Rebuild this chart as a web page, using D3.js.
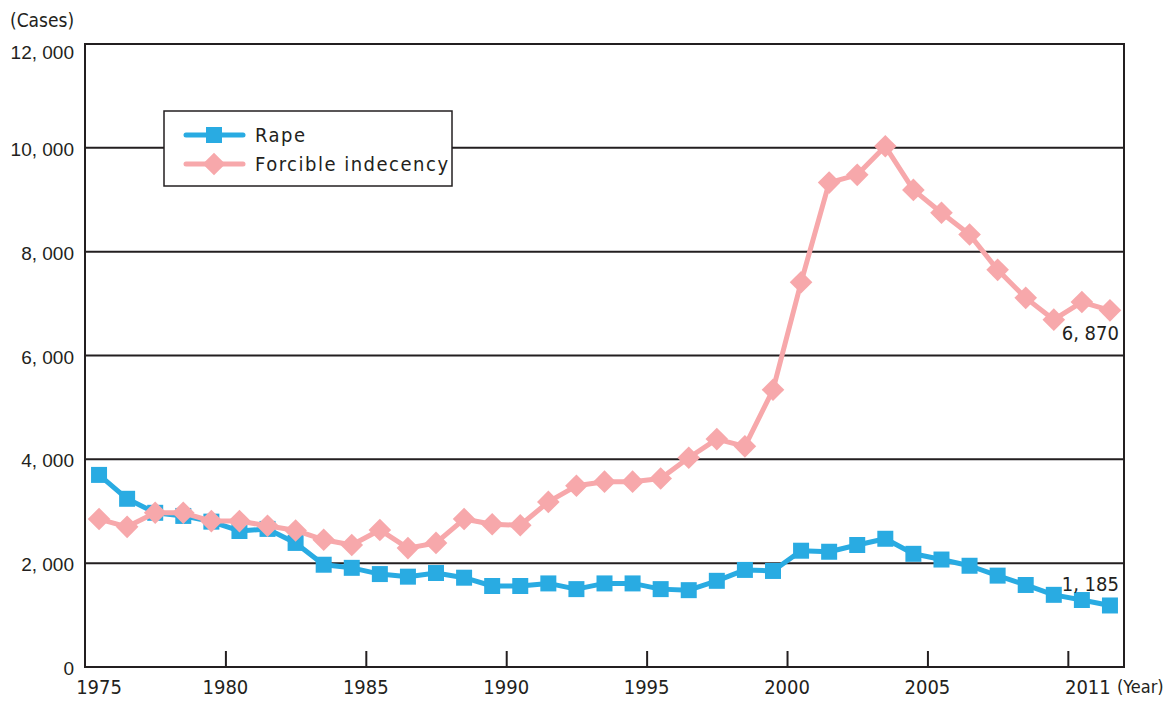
<!DOCTYPE html>
<html>
<head>
<meta charset="utf-8">
<script src="https://cdn.jsdelivr.net/npm/d3@7"></script>
<style>
  body { margin: 0; background: #fff; }
  svg { display: block; font-family: "Liberation Sans Narrow", "DejaVu Sans Condensed", sans-serif; }
</style>
</head>
<body>
<svg id="chart" width="1171" height="701"></svg>
<script>
// data
const years = d3.range(1975, 2012);
const rape = [3700, 3240, 2970, 2910, 2800, 2620, 2660, 2390, 1970, 1910,
              1790, 1740, 1810, 1720, 1560, 1560, 1610, 1500, 1610, 1610,
              1500, 1480, 1660, 1870, 1850, 2240, 2220, 2350, 2470, 2180,
              2070, 1950, 1760, 1580, 1390, 1290, 1185];
const indecency = [2850, 2700, 2970, 2970, 2810, 2810, 2720, 2630, 2450, 2350,
                   2640, 2290, 2390, 2850, 2750, 2730, 3180, 3490, 3570, 3570,
                   3630, 4030, 4390, 4250, 5340, 7410, 9330, 9480, 10030, 9190,
                   8750, 8330, 7650, 7110, 6690, 7030, 6870];
const yTicks = [0, 2000, 4000, 6000, 8000, 10000, 12000];
const tickYears = [1980, 1985, 1990, 1995, 2000, 2005, 2010];
const yearLabels = ["1975", "1980", "1985", "1990", "1995", "2000", "2005", "2011"];
const seriesNames = ["Rape", "Forcible indecency"];

const blue = "#29abe2", pink = "#f7a8ab";
const margin = { top: 44, right: 47, bottom: 34, left: 85 };
const W = 1171, H = 701;
const width = W - margin.left - margin.right;
const height = H - margin.top - margin.bottom;

const svg = d3.select("#chart");
const g = svg.append("g").attr("transform", `translate(${margin.left},${margin.top})`);

const x = d3.scaleLinear().domain([1975, 2012]).range([0, width]);
const y = d3.scaleLinear().domain([0, 12000]).range([height, 0]);
const cx = d => x(d + 0.5);

// gridlines
g.append("g").selectAll("line").data(yTicks.slice(1, -1)).join("line")
  .attr("x1", 0).attr("x2", width)
  .attr("y1", d => y(d)).attr("y2", d => y(d))
  .attr("stroke", "#231f20").attr("stroke-width", 2);

// frame
g.append("rect").attr("width", width).attr("height", height)
  .attr("fill", "none").attr("stroke", "#231f20").attr("stroke-width", 2);

// y axis labels
const yAxis = g.append("g")
  .call(d3.axisLeft(y).tickValues(yTicks).tickSize(0).tickPadding(11)
    .tickFormat(d => d3.format(",")(d).replace(",", ", ")));
yAxis.select(".domain").remove();
yAxis.selectAll("text").attr("font-size", 19).attr("fill", "#231f20")
  .attr("dy", d => d === 12000 ? "0.75em" : "0.4em");

// x ticks
const xAxis = g.append("g").attr("transform", `translate(0,${height})`)
  .call(d3.axisBottom(x).tickValues(tickYears).tickSizeInner(-16).tickSizeOuter(0).tickFormat(""));
xAxis.select(".domain").remove();
xAxis.selectAll("line").attr("stroke", "#231f20").attr("stroke-width", 2);

// x labels
const labelX = [cx(1975), ...tickYears.slice(0, -1).map(d => x(d)), x(2010) + 20];
g.append("g").selectAll("text").data(yearLabels).join("text")
  .attr("x", (d, i) => labelX[i]).attr("y", height + 27)
  .attr("text-anchor", "middle").attr("font-size", 20).attr("fill", "#231f20")
  .text(d => d);

svg.append("text").attr("x", 1117).attr("y", 693).attr("font-size", 18).attr("fill", "#231f20").text("(Year)");
svg.append("text").attr("x", 10).attr("y", 27).attr("font-size", 19).attr("fill", "#231f20").text("(Cases)");

// series
const line = d3.line().x((d, i) => cx(years[i])).y(d => y(d));

function drawSeries(vals, color, shape) {
  g.append("path").datum(vals).attr("d", line)
    .attr("fill", "none").attr("stroke", color).attr("stroke-width", 5)
    .attr("stroke-linejoin", "round");
  g.append("g").selectAll("path").data(vals).join("path")
    .attr("transform", (d, i) => `translate(${cx(years[i])},${y(d)})${shape === "diamond" ? " rotate(45)" : ""}`)
    .attr("d", "M-8,-8H8V8H-8Z")
    .attr("fill", color);
}
drawSeries(rape, blue, "square");
drawSeries(indecency, pink, "diamond");

// end value labels
const last = years.length - 1;
g.append("text").attr("x", cx(years[last]) + 9).attr("y", y(indecency[last]) + 30)
  .attr("text-anchor", "end").attr("font-size", 20).attr("fill", "#231f20")
  .text(d3.format(",")(indecency[last]).replace(",", ", "));
g.append("text").attr("x", cx(years[last]) + 9).attr("y", y(rape[last]) - 14)
  .attr("text-anchor", "end").attr("font-size", 20).attr("fill", "#231f20")
  .text(d3.format(",")(rape[last]).replace(",", ", "));

// legend
const lg = svg.append("g").attr("transform", "translate(164,111)");
lg.append("rect").attr("width", 288).attr("height", 75)
  .attr("fill", "#fff").attr("stroke", "#231f20").attr("stroke-width", 1.5);
const colors = [blue, pink];
const shapes = ["square", "diamond"];
seriesNames.forEach((name, i) => {
  const row = lg.append("g").attr("transform", `translate(0,${24 + i * 29})`);
  row.append("line").attr("x1", 22).attr("x2", 79).attr("stroke", colors[i])
    .attr("stroke-width", 5).attr("stroke-linecap", "round");
  row.append("path").attr("transform", `translate(50,0)${shapes[i] === "diamond" ? " rotate(45)" : ""}`)
    .attr("d", "M-8,-8H8V8H-8Z").attr("fill", colors[i]);
  row.append("text").attr("x", 91).attr("y", 7).attr("font-size", 20)
    .attr("letter-spacing", 1.5).attr("fill", "#231f20").text(name);
});
</script>
</body>
</html>
